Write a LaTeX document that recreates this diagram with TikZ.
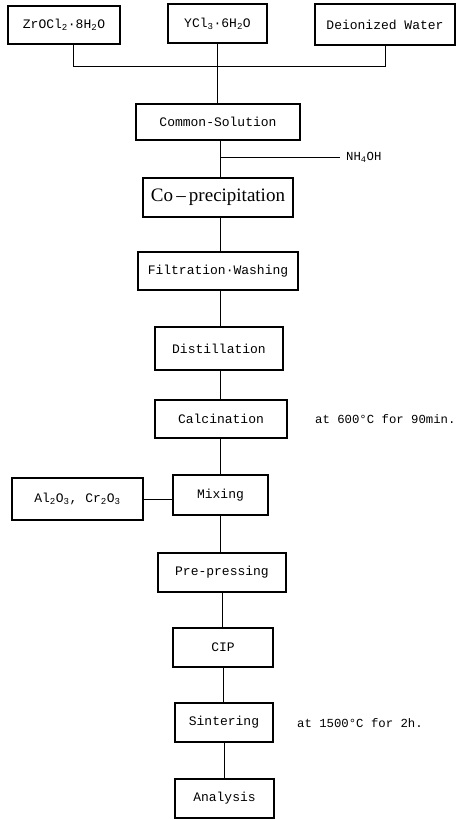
\documentclass[tikz,border=0pt]{standalone}
\usepackage{fontspec}
\setmainfont{Liberation Serif}
\setmonofont{Liberation Mono}
\begin{document}
\begin{tikzpicture}[x=1pt,y=-1pt,
  box/.style={draw, line width=1.1pt, inner sep=0pt, font=\ttfamily\fontsize{13}{13}\selectfont},
  conn/.style={line width=1pt},
  note/.style={anchor=west, inner sep=0pt, font=\ttfamily\fontsize{12.3}{12.3}\selectfont}]
\useasboundingbox (0,0) rectangle (463,820);
\coordinate (spine) at (220,0);
% top raw materials
\node[box, minimum width=112pt, minimum height=38pt] (zr)  at (64,25)    {ZrOCl\textsubscript{2}·8H\textsubscript{2}O};
\node[box, minimum width=99pt,  minimum height=39pt] (ycl) at (217.5,23.5) {YCl\textsubscript{3}·6H\textsubscript{2}O};
\node[box, minimum width=140pt, minimum height=41pt] (dw)  at (385,24.5) {Deionized Water};
\coordinate (jn) at (217.5,66);
% process chain
\node[box, minimum width=164pt, minimum height=36pt] (cs)   at (218,122)   {Common-Solution};
\node[box, minimum width=150pt, minimum height=39pt, font=\rmfamily\fontsize{19}{19}\selectfont] (cop) at (218,197.5) {Co\,--\,precipitation};
\node[box, minimum width=160pt, minimum height=38pt] (fw)   at (218,271)   {Filtration·Washing};
\node[box, minimum width=128pt, minimum height=43pt] (dist) at (219,348.5) {Distillation};
\node[box, minimum width=132pt, minimum height=38pt] (calc) at (221,419)   {Calcination};
\node[box, minimum width=95pt,  minimum height=40pt] (mix)  at (220.5,495) {Mixing};
\node[box, minimum width=131pt, minimum height=42pt] (al)   at (77.5,499)  {Al\textsubscript{2}O\textsubscript{3}, Cr\textsubscript{2}O\textsubscript{3}};
\node[box, minimum width=128pt, minimum height=39pt] (prep) at (222,572.5) {Pre-pressing};
\node[box, minimum width=100pt, minimum height=39pt] (cip)  at (223,647.5) {CIP};
\node[box, minimum width=98pt,  minimum height=39pt] (sint) at (224,722.5) {Sintering};
\node[box, minimum width=99pt,  minimum height=39pt] (anal) at (224.5,798.5) {Analysis};
% side notes
\node[note] (nh)  at (346,157) {NH\textsubscript{4}OH};
\node[note] (t1)  at (315,419) {at 600°C for 90min.};
\node[note] (t2)  at (297,723) {at 1500°C for 2h.};
\coordinate (nhj) at (220,157);
% connectors
\draw[conn] ([xshift=9pt]zr.south) -- ([xshift=9pt]zr.south |- jn) -| (dw.south);
\draw[conn] (ycl.south) -- (ycl.south |- cs.north);
\draw[conn] (cs.south -| spine) -- (cop.north -| spine);
\draw[conn] (nhj) -- ([xshift=-6pt]nh.west);
\draw[conn] (cop.south -| spine) -- (fw.north -| spine);
\draw[conn] (fw.south -| spine) -- (dist.north -| spine);
\draw[conn] (dist.south -| spine) -- (calc.north -| spine);
\draw[conn] (calc.south -| spine) -- (mix.north -| spine);
\draw[conn] (al.east) -- (al.east -| mix.west);
\draw[conn] (mix.south -| spine) -- ([xshift=-2pt]prep.north);
\draw[conn] (prep.south) -- (prep.south |- cip.north);
\draw[conn] (cip.south) -- (cip.south |- sint.north);
\draw[conn] (sint.south) -- (sint.south |- anal.north);
\end{tikzpicture}
\end{document}
